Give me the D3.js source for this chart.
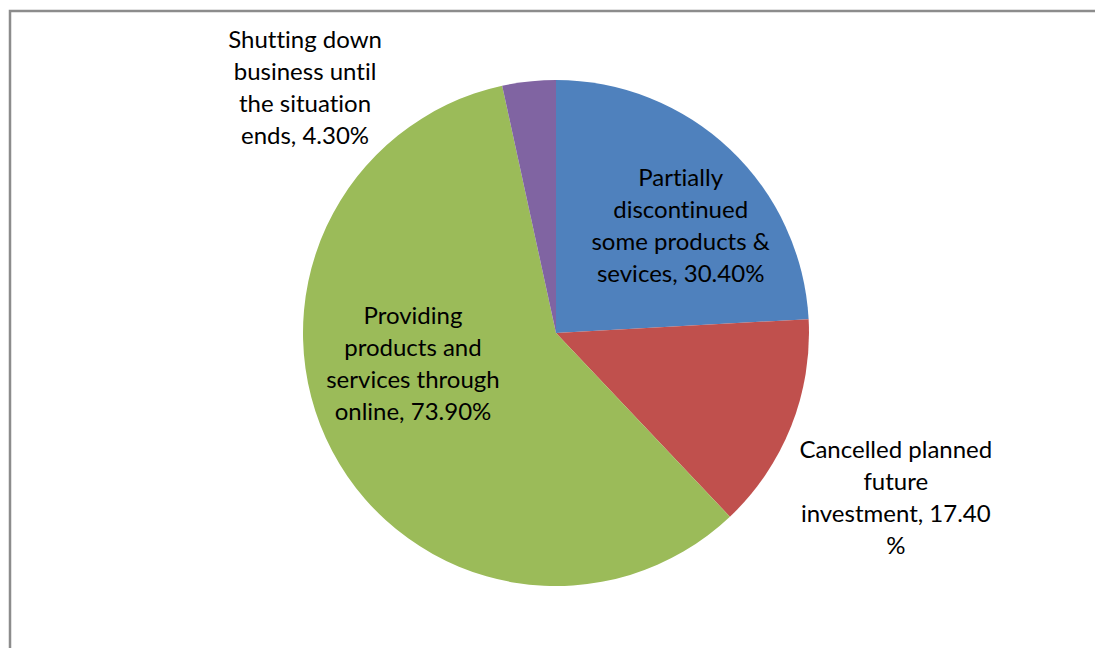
<!DOCTYPE html>
<html>
<head>
<meta charset="utf-8">
<script src="https://cdn.jsdelivr.net/npm/d3@7"></script>
<style>
  html, body { margin: 0; padding: 0; background: #fff; }
  svg { display: block; }
  text { font-family: Lato, "Open Sans", sans-serif; fill: #000; font-variant-ligatures: none; }
</style>
</head>
<body>
<svg id="chart" width="1095" height="648"></svg>
<script>
// Business responses and their share of respondents (%)
const categories = [
  "Partially discontinued some products & sevices",
  "Cancelled planned future investment",
  "Providing products and services through online",
  "Shutting down business until the situation ends"
];
const values = [30.4, 17.4, 73.9, 4.3];
const valueLabels = ["30.40%", "17.40 %", "73.90%", "4.30%"];
const colors = ["#4f81bd", "#c0504d", "#9bbb59", "#8064a2"];

// Label lines as wrapped in the chart
const labelLines = [
  ["Partially", "discontinued", "some products &", "sevices, 30.40%"],
  ["Cancelled planned", "future", "investment, 17.40", "%"],
  ["Providing", "products and", "services through", "online, 73.90%"],
  ["Shutting down", "business until", "the situation", "ends, 4.30%"]
];

const svg = d3.select("#chart");
const W = 1095, H = 648;

// chart area frame (runs off the right and bottom edges)
svg.append("rect")
  .attr("x", 10).attr("y", 11)
  .attr("width", W + 20).attr("height", H + 20)
  .attr("fill", "#fff")
  .attr("stroke", "#8c8c8c")
  .attr("stroke-width", 2.5);

const cx = 556, cy = 333, r = 253;

const pie = d3.pie().sort(null).value(d => d);
const arcs = pie(values);
const arc = d3.arc().innerRadius(0).outerRadius(r);

const g = svg.append("g").attr("transform", `translate(${cx},${cy})`);
g.selectAll("path.slice")
  .data(arcs)
  .join("path")
  .attr("class", "slice")
  .attr("d", arc)
  .attr("fill", (d, i) => colors[i]);

// label anchors: inside for the large slices, outside for the small ones
const labelArc = [
  d3.arc().innerRadius(r * 0.55).outerRadius(r * 0.55),
  d3.arc().innerRadius(r * 1.45).outerRadius(r * 1.45),
  d3.arc().innerRadius(r * 0.55).outerRadius(r * 0.55),
  d3.arc().innerRadius(r * 1.07).outerRadius(r * 1.07)
];
const labelShift = [[29, -6], [-1, 29], [-20, -34], [-222, 23.5]];

const lineH = 32;
const labels = svg.append("g").attr("class", "labels");
arcs.forEach((d, i) => {
  const [lx, ly] = labelArc[i].centroid(d);
  const x = cx + lx + labelShift[i][0];
  const y = cy + ly + labelShift[i][1];
  const lines = labelLines[i];
  const t = labels.append("text")
    .attr("text-anchor", "middle")
    .attr("font-size", 24)
    .attr("x", x)
    .attr("y", y - (lines.length - 1) * lineH / 2);
  lines.forEach((s, k) => {
    t.append("tspan")
      .attr("x", x)
      .attr("dy", k === 0 ? "0.35em" : lineH)
      .text(s);
  });
});
</script>
</body>
</html>
